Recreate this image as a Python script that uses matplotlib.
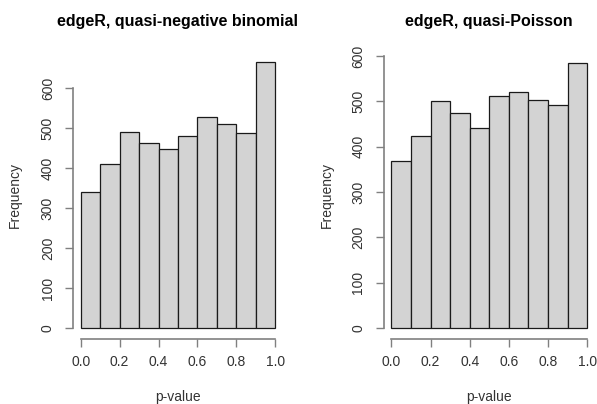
import numpy as np
import matplotlib.pyplot as plt

plt.rcParams['font.family'] = ['Liberation Sans', 'DejaVu Sans']

# p-value histogram bins and counts for both edgeR fits
bin_edges = [0.0, 0.1, 0.2, 0.3, 0.4, 0.5, 0.6, 0.7, 0.8, 0.9, 1.0]
counts_qnb = [340, 411, 491, 464, 447, 480, 527, 510, 487, 665]
counts_qp = [369, 423, 500, 474, 440, 511, 520, 502, 492, 585]

titles = ['edgeR, quasi-negative binomial', 'edgeR, quasi-Poisson']
x_ticks = [0.0, 0.2, 0.4, 0.6, 0.8, 1.0]
x_tick_labels = ['0.0', '0.2', '0.4', '0.6', '0.8', '1.0']
y_ticks = [0, 100, 200, 300, 400, 500, 600]

BAR_FILL = '#d3d3d3'
AXIS_COL = '#808080'
TEXT_COL = '#333333'

fig = plt.figure(figsize=(5.97, 4.04), dpi=100)
ax1 = fig.add_axes([0.1221, 0.1619, 0.3521, 0.7101])
ax2 = fig.add_axes([0.6424, 0.1619, 0.3544, 0.7091])


def draw_hist(ax, counts, title, ylab_x):
    lefts = np.array(bin_edges[:-1])
    widths = np.diff(bin_edges)
    ax.bar(lefts, counts, width=widths, align='edge', color=BAR_FILL,
           edgecolor='#1a1a1a', linewidth=0.9)
    top = max(counts)
    ax.set_xlim(-0.04, 1.04)
    ax.set_ylim(-0.04 * top, 1.04 * top)

    for side in ['top', 'right']:
        ax.spines[side].set_visible(False)
    for side in ['left', 'bottom']:
        ax.spines[side].set_color(AXIS_COL)
        ax.spines[side].set_linewidth(1.2)
    ax.spines['left'].set_bounds(0, 600)
    ax.spines['bottom'].set_bounds(0, 1)

    ax.set_xticks(x_ticks)
    ax.set_xticklabels(x_tick_labels)
    ax.set_yticks(y_ticks)
    ax.set_yticklabels([str(v) for v in y_ticks], rotation=90, va='center')
    ax.tick_params(axis='both', direction='out', length=5.5, width=1.0,
                   color=AXIS_COL, labelcolor=TEXT_COL, labelsize=10)
    ax.tick_params(axis='x', pad=6.5)
    ax.tick_params(axis='y', pad=7.5)

    ax.set_title(title, fontsize=11.5, fontweight='bold', color='black', pad=18.5)
    ax.set_xlabel('p-value', fontsize=10, color=TEXT_COL, va='center')
    ax.xaxis.set_label_coords(0.5, -0.2024)
    ax.set_ylabel('Frequency', fontsize=10, color=TEXT_COL, va='center')
    ax.yaxis.set_label_coords(ylab_x, 0.5)


draw_hist(ax1, counts_qnb, titles[0], -0.275)
draw_hist(ax2, counts_qp, titles[1], -0.267)

fig.savefig('out.png', dpi=100)
